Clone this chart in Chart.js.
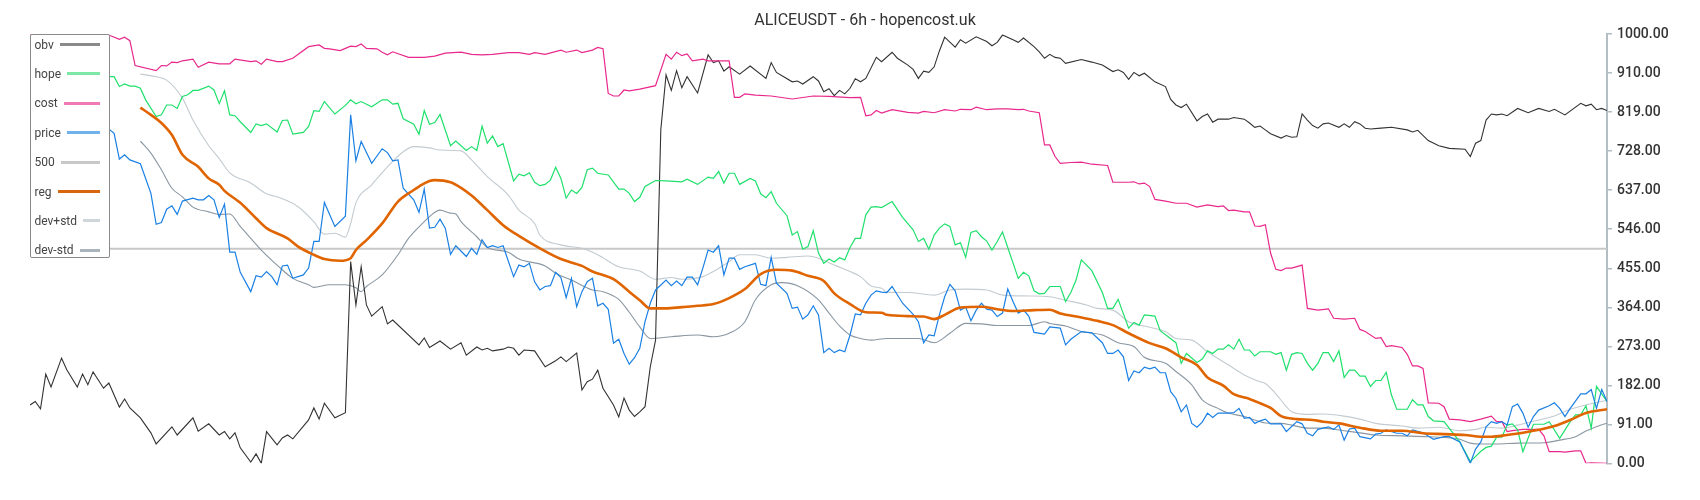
<!DOCTYPE html>
<html>
<head>
<meta charset="utf-8">
<title>ALICEUSDT - 6h - hopencost.uk</title>
<script src="https://cdn.jsdelivr.net/npm/chart.js@4.4.1/dist/chart.umd.min.js"></script>
<style>
  body { margin: 0; background: #fff; }
  #wrap { position: relative; width: 1700px; height: 500px; }
  #legend {
    position: absolute; left: 30px; top: 34px; width: 78px; height: 222px;
    border: 1.5px solid #8a8a8a; border-radius: 2px; background: #fff;
    font: 12px Roboto, sans-serif; color: #444;
  }
  .item { position: absolute; left: 3.5px; right: 9px; height: 18px; display: flex; align-items: center; }
  .swatch { flex: 1; height: 3px; margin-left: 6px; }
</style>
</head>
<body>
<div id="wrap">
  <canvas id="grafico" width="1700" height="500"></canvas>
  <div id="legend"></div>
</div>
<script>
// [bar, value] pairs, bar 0..300
const obv = [[0,136],[1,144],[2,127],[3,208],[4,178],[6,245],[7,218],[9,178],[10,208],[11,183],[12,213],[14,175],[15,187],[17,131],[18,150],[19,129],[21,106],[23,71],[24,45],[27,85],[28,66],[31,106],[32,75],[34,92],[36,66],[37,74],[38,57],[39,71],[40,36],[42,3],[43,22],[44,0],[45,74],[47,43],[48,59],[49,66],[50,57],[53,101],[54,129],[55,103],[56,140],[58,106],[60,118],[61,470],[62,369],[63,458],[64,369],[65,343],[67,365],[68,325],[69,334],[74,276],[75,292],[76,270],[78,285],[80,266],[82,281],[83,252],[85,271],[86,264],[87,268],[88,262],[90,266],[91,271],[92,268],[93,252],[94,264],[96,262],[98,225],[100,239],[101,248],[102,237],[104,257],[105,171],[106,190],[107,196],[108,217],[109,175],[111,136],[112,108],[113,152],[114,124],[115,109],[116,120],[117,132],[118,225],[119,287],[120,777],[121,905],[122,869],[123,915],[124,875],[125,901],[127,863],[129,952],[130,934],[131,938],[132,914],[133,924],[135,907],[137,926],[140,897],[141,934],[142,911],[145,889],[146,891],[147,884],[149,901],[150,891],[151,866],[152,873],[153,857],[154,869],[155,861],[156,874],[157,896],[158,889],[159,897],[161,946],[162,936],[164,958],[165,944],[167,928],[168,918],[169,897],[170,914],[171,911],[172,924],[173,961],[174,993],[176,970],[177,987],[178,979],[180,994],[182,983],[183,973],[184,981],[185,998],[187,987],[188,981],[189,991],[191,971],[192,959],[193,944],[194,953],[195,946],[196,944],[197,932],[200,941],[202,935],[204,928],[206,913],[207,917],[208,911],[209,895],[210,911],[211,903],[212,909],[214,889],[216,878],[217,848],[218,835],[219,829],[220,837],[222,798],[223,808],[224,814],[225,795],[226,802],[228,802],[229,806],[231,802],[232,793],[233,783],[234,786],[235,777],[236,768],[238,758],[239,764],[240,760],[241,761],[242,814],[243,800],[244,787],[245,781],[246,791],[247,793],[249,783],[250,791],[251,783],[252,796],[253,791],[254,781],[255,779],[257,781],[259,783],[262,777],[263,772],[264,776],[266,752],[268,740],[270,734],[273,732],[274,715],[275,746],[276,752],[277,800],[278,814],[279,812],[280,814],[281,810],[283,827],[285,817],[287,827],[289,820],[290,825],[292,812],[295,839],[296,833],[297,837],[298,824],[299,827],[300,822]];

const hope = [[0,905],[8,900],[15,901],[16,901],[17,878],[18,884],[19,879],[20,879],[21,874],[22,847],[24,808],[25,812],[26,835],[27,835],[28,827],[29,855],[30,859],[31,869],[32,869],[34,879],[35,870],[36,838],[37,868],[38,812],[39,810],[40,796],[42,771],[43,791],[44,787],[45,791],[47,772],[48,799],[49,800],[50,767],[52,771],[53,785],[54,822],[55,820],[56,843],[58,814],[60,834],[61,847],[62,838],[63,843],[65,831],[67,847],[68,847],[69,837],[70,839],[71,803],[73,790],[74,767],[75,822],[76,790],[77,794],[78,813],[80,740],[81,751],[83,729],[84,738],[85,729],[86,786],[87,746],[88,763],[89,738],[90,745],[92,658],[93,674],[94,670],[95,677],[96,655],[97,647],[98,650],[99,660],[100,690],[101,664],[102,618],[103,637],[104,629],[105,643],[106,684],[107,688],[108,676],[110,672],[112,639],[113,639],[114,629],[115,610],[116,620],[117,645],[119,659],[121,658],[124,656],[125,662],[127,650],[129,667],[130,664],[131,680],[132,653],[133,676],[134,676],[135,650],[137,664],[138,658],[139,628],[140,619],[141,633],[142,606],[144,577],[145,532],[146,540],[147,499],[148,505],[149,542],[150,490],[151,466],[152,476],[153,469],[154,479],[155,474],[156,503],[157,524],[158,524],[159,579],[160,597],[161,598],[162,596],[164,610],[166,573],[168,544],[169,517],[170,524],[171,499],[172,532],[173,548],[174,558],[175,552],[176,509],[177,514],[178,480],[179,538],[180,542],[181,528],[182,518],[183,497],[184,517],[185,539],[188,431],[189,445],[190,437],[191,402],[192,395],[193,396],[194,412],[196,412],[197,377],[198,398],[199,427],[200,474],[202,449],[204,398],[205,361],[206,361],[207,382],[209,315],[210,328],[211,322],[212,346],[214,343],[215,309],[218,281],[219,233],[220,256],[222,235],[223,243],[224,262],[225,256],[226,266],[227,266],[228,276],[229,266],[230,289],[231,264],[232,264],[233,250],[234,260],[236,260],[237,254],[238,258],[239,217],[240,254],[241,258],[242,256],[243,233],[244,217],[245,233],[246,258],[247,258],[248,237],[249,262],[250,200],[251,217],[252,217],[253,203],[254,203],[255,179],[256,193],[257,193],[258,212],[259,159],[260,126],[262,126],[263,148],[264,136],[265,136],[266,109],[267,99],[269,97],[272,50],[274,4],[276,28],[277,37],[278,40],[279,61],[280,61],[281,89],[282,92],[283,78],[284,27],[286,91],[288,91],[289,97],[291,58],[293,97],[294,113],[295,113],[296,134],[297,82],[298,179],[300,144]];

const cost = [[0,1000],[6,996],[12,1000],[15,998],[17,988],[18,993],[19,985],[20,927],[24,915],[25,927],[26,926],[27,935],[28,934],[29,938],[31,942],[32,923],[34,935],[36,931],[38,931],[39,942],[42,936],[43,938],[44,930],[45,942],[47,936],[48,936],[50,944],[53,971],[55,975],[56,967],[57,966],[59,962],[60,967],[61,972],[62,971],[63,977],[64,967],[66,966],[67,958],[68,952],[69,959],[72,946],[75,946],[77,949],[79,956],[82,958],[84,953],[86,952],[88,953],[91,957],[93,957],[95,953],[96,957],[98,953],[101,963],[102,958],[104,963],[105,957],[107,963],[108,969],[109,966],[110,862],[111,856],[112,856],[113,870],[114,868],[116,872],[119,880],[121,953],[122,942],[123,958],[124,950],[125,954],[126,938],[128,942],[129,938],[133,938],[134,853],[135,853],[136,861],[138,858],[141,856],[145,849],[149,856],[152,855],[156,852],[158,853],[159,810],[160,812],[161,822],[162,816],[164,824],[167,818],[169,816],[170,820],[172,817],[174,824],[176,821],[177,825],[179,824],[180,830],[182,824],[184,826],[186,826],[188,824],[189,825],[190,821],[192,817],[193,742],[194,742],[195,715],[196,699],[198,701],[200,702],[202,697],[205,694],[206,655],[209,655],[210,656],[211,651],[212,653],[213,645],[214,615],[216,611],[218,606],[220,606],[222,597],[224,602],[226,598],[227,600],[228,589],[229,590],[231,586],[232,586],[233,553],[234,552],[235,556],[236,490],[237,452],[238,449],[239,455],[240,455],[242,462],[243,361],[245,357],[247,360],[248,338],[250,336],[252,338],[253,312],[254,307],[256,291],[257,293],[258,272],[259,274],[261,270],[262,254],[263,227],[264,227],[265,221],[266,141],[268,140],[269,132],[270,103],[272,101],[274,97],[276,103],[278,110],[279,97],[280,97],[281,74],[282,76],[284,79],[287,79],[288,64],[289,27],[291,27],[292,26],[294,29],[295,29],[296,0],[297,1],[300,0]];

const price = [[0,790],[7,770],[15,779],[16,769],[17,709],[18,719],[19,707],[21,698],[23,629],[24,557],[25,561],[26,592],[27,600],[28,580],[29,611],[31,618],[32,614],[33,614],[34,624],[35,614],[36,573],[37,604],[38,492],[39,492],[40,445],[42,400],[43,437],[44,434],[45,447],[46,435],[47,416],[48,460],[49,462],[50,431],[52,439],[53,455],[54,517],[55,517],[56,608],[58,552],[60,576],[61,812],[62,705],[63,750],[65,699],[67,733],[68,724],[69,705],[70,707],[71,641],[73,614],[74,585],[75,639],[76,548],[77,550],[78,569],[79,548],[80,487],[81,507],[83,482],[84,501],[85,487],[86,521],[87,503],[88,507],[89,503],[90,507],[92,435],[93,462],[94,458],[95,466],[96,423],[97,404],[98,412],[99,414],[100,445],[101,433],[102,386],[103,431],[104,365],[105,400],[106,423],[107,431],[108,367],[109,373],[110,359],[111,280],[112,289],[113,256],[114,231],[115,246],[116,268],[117,330],[118,373],[119,404],[121,427],[122,414],[123,425],[124,414],[125,434],[126,434],[127,416],[128,455],[129,497],[130,492],[131,507],[132,439],[133,478],[134,478],[135,452],[136,458],[138,466],[139,417],[140,414],[141,480],[142,420],[144,396],[145,361],[146,364],[147,336],[148,346],[149,367],[150,346],[151,258],[152,268],[153,258],[154,264],[155,260],[156,299],[157,348],[158,346],[159,373],[160,392],[161,402],[162,399],[163,398],[164,412],[166,373],[168,347],[169,330],[170,281],[171,299],[172,297],[173,346],[174,388],[175,417],[176,402],[177,357],[178,364],[179,332],[180,357],[181,373],[182,359],[183,357],[184,342],[185,350],[186,406],[187,377],[188,350],[189,357],[190,343],[191,305],[193,301],[194,318],[196,315],[197,276],[198,289],[200,307],[202,304],[204,281],[205,256],[206,256],[207,264],[208,248],[209,193],[210,215],[211,211],[212,224],[213,220],[214,224],[215,211],[216,211],[217,167],[218,151],[219,120],[220,136],[221,93],[222,84],[223,96],[224,117],[225,107],[226,117],[228,117],[229,118],[230,128],[231,105],[232,107],[233,93],[234,99],[235,103],[236,92],[238,92],[239,74],[241,97],[242,92],[243,70],[244,64],[245,79],[247,85],[248,79],[249,89],[250,54],[251,80],[252,82],[253,62],[255,57],[256,68],[257,70],[258,78],[260,70],[261,70],[262,64],[263,78],[265,71],[267,56],[269,62],[270,62],[272,50],[274,0],[275,33],[276,50],[277,85],[278,97],[279,93],[280,97],[281,89],[282,132],[283,138],[284,117],[285,84],[286,109],[287,124],[289,134],[290,141],[291,128],[292,109],[293,128],[295,162],[296,162],[297,172],[298,128],[299,172],[300,144]];

const linha500 = [[0,500],[300,500]];

const reg = [[21,829],[23,812],[25,793],[27,765],[29,719],[32,691],[34,664],[36,649],[37,635],[40,607],[43,571],[45,548],[49,524],[51,505],[54,486],[56,476],[59,472],[61,478],[62,497],[64,520],[67,559],[70,610],[73,637],[74,645],[76,658],[77,660],[80,655],[82,642],[84,624],[87,590],[90,555],[93,530],[97,501],[101,476],[105,460],[107,447],[111,429],[114,400],[116,380],[118,361],[121,361],[124,364],[127,367],[130,371],[133,385],[136,406],[139,441],[142,451],[145,449],[148,437],[151,425],[153,396],[156,371],[159,352],[162,351],[163,346],[167,343],[170,342],[172,336],[174,346],[177,363],[181,365],[184,359],[187,355],[191,357],[194,358],[196,349],[200,340],[203,332],[206,322],[209,303],[213,280],[216,268],[219,247],[222,229],[224,200],[227,181],[229,161],[232,150],[234,140],[236,129],[238,110],[241,103],[244,101],[246,97],[249,93],[253,83],[257,76],[261,76],[265,70],[269,68],[273,66],[276,62],[278,62],[281,66],[284,71],[287,78],[290,87],[293,101],[296,117],[300,126]];

const devMais = [[21,907],[24,901],[26,893],[29,851],[31,800],[34,740],[36,710],[38,677],[42,653],[45,628],[47,621],[51,598],[54,563],[56,534],[58,536],[60,527],[61,559],[62,607],[65,649],[68,691],[71,726],[73,738],[76,735],[78,730],[82,728],[84,707],[87,668],[91,625],[93,590],[96,559],[97,532],[101,509],[105,501],[108,486],[112,458],[116,448],[119,429],[122,433],[124,429],[128,435],[130,447],[133,470],[135,486],[138,486],[141,478],[144,480],[148,483],[150,478],[153,462],[156,447],[158,435],[160,413],[162,408],[163,399],[167,398],[172,392],[175,404],[178,406],[182,404],[185,392],[190,390],[194,388],[197,380],[201,369],[203,361],[206,357],[209,330],[213,317],[216,307],[218,291],[221,287],[224,260],[228,229],[231,206],[234,190],[235,186],[237,162],[239,132],[240,120],[243,114],[246,115],[250,110],[253,103],[256,93],[261,87],[264,82],[268,84],[272,76],[275,79],[277,84],[280,82],[283,89],[287,101],[290,110],[293,126],[296,136],[300,147]];

const devMenos = [[21,751],[23,723],[25,684],[27,641],[29,621],[31,597],[34,586],[36,580],[38,581],[40,552],[44,497],[47,462],[50,431],[53,416],[54,410],[57,416],[60,416],[62,409],[63,400],[64,412],[67,439],[70,486],[72,524],[75,563],[76,575],[78,590],[80,583],[81,581],[82,563],[85,528],[87,503],[91,492],[93,476],[98,460],[100,443],[103,427],[107,404],[109,400],[112,382],[114,352],[116,318],[118,291],[122,295],[127,299],[130,295],[133,303],[136,330],[138,381],[141,416],[143,421],[146,414],[150,381],[152,350],[154,320],[156,299],[158,291],[160,287],[163,291],[169,291],[172,281],[175,303],[178,326],[181,325],[184,321],[190,321],[193,330],[194,326],[196,322],[197,320],[200,307],[204,299],[207,281],[210,272],[212,247],[216,233],[218,214],[221,183],[223,148],[226,128],[228,117],[231,109],[233,101],[235,94],[238,93],[240,89],[243,82],[246,82],[250,76],[253,71],[256,66],[261,64],[266,62],[269,60],[272,56],[274,47],[276,45],[279,45],[283,47],[288,48],[291,54],[294,62],[296,75],[299,90],[300,93]];

const legenda = [
  ['obv', '#8a8a8a'],
  ['hope', '#7de8a6'],
  ['cost', '#f07ab6'],
  ['price', '#72b2ec'],
  ['500', '#c8c8c8'],
  ['reg', '#d9650c'],
  ['dev+std', '#cfd6da'],
  ['dev-std', '#a9b4bb']
];

const pts = arr => arr.map(([x, y]) => ({ x, y }));

const linha = (label, data, color, width, order, smooth) => ({
  label,
  data: pts(data),
  borderColor: color,
  backgroundColor: color,
  borderWidth: width,
  pointRadius: 0,
  fill: false,
  order,
  cubicInterpolationMode: smooth ? 'monotone' : 'default',
  tension: 0
});

new Chart(document.getElementById('grafico'), {
  type: 'line',
  data: {
    datasets: [
      linha('reg', reg, '#e06400', 2.6, 0, true),
      linha('price', price, '#1a80e4', 1.2, 1),
      linha('hope', hope, '#1fe06c', 1.2, 2),
      linha('cost', cost, '#e8288c', 1.2, 3),
      linha('obv', obv, '#333333', 1.1, 4),
      linha('dev-std', devMenos, '#8a97a2', 1.1, 5, true),
      linha('dev+std', devMais, '#c3cbd0', 1.1, 6, true),
      linha('500', linha500, '#c8c8c8', 2, 7)
    ]
  },
  options: {
    responsive: false,
    animation: false,
    layout: { padding: { left: 30, right: 0, top: 0, bottom: 36.7 } },
    plugins: {
      legend: { display: false },
      tooltip: { enabled: false },
      title: {
        display: true,
        text: 'ALICEUSDT - 6h - hopencost.uk',
        color: '#333',
        font: { family: 'Roboto', size: 16, weight: 'normal' },
        padding: { top: 11, bottom: 4 }
      }
    },
    scales: {
      x: { type: 'linear', min: 0, max: 300, display: false },
      y: {
        position: 'right',
        min: 0,
        max: 1000,
        afterFit: s => { s.width = 93; },
        ticks: {
          count: 12,
          padding: 5,
          color: '#333',
          font: { family: 'Roboto', size: 14, weight: '500' },
          callback: v => Math.ceil(Math.round(v * 1000) / 1000).toFixed(2)
        },
        grid: { drawOnChartArea: false, tickLength: 5, color: '#b3bdc4', lineWidth: 1.5 },
        border: { color: '#b3bdc4', width: 2 }
      }
    }
  }
});

const box = document.getElementById('legend');
legenda.forEach(([nome, cor], i) => {
  const item = document.createElement('div');
  item.className = 'item';
  item.style.top = (0.5 + 29.4 * i) + 'px';
  item.innerHTML = `<span>${nome}</span><span class="swatch" style="background:${cor}"></span>`;
  box.appendChild(item);
});
</script>
</body>
</html>
